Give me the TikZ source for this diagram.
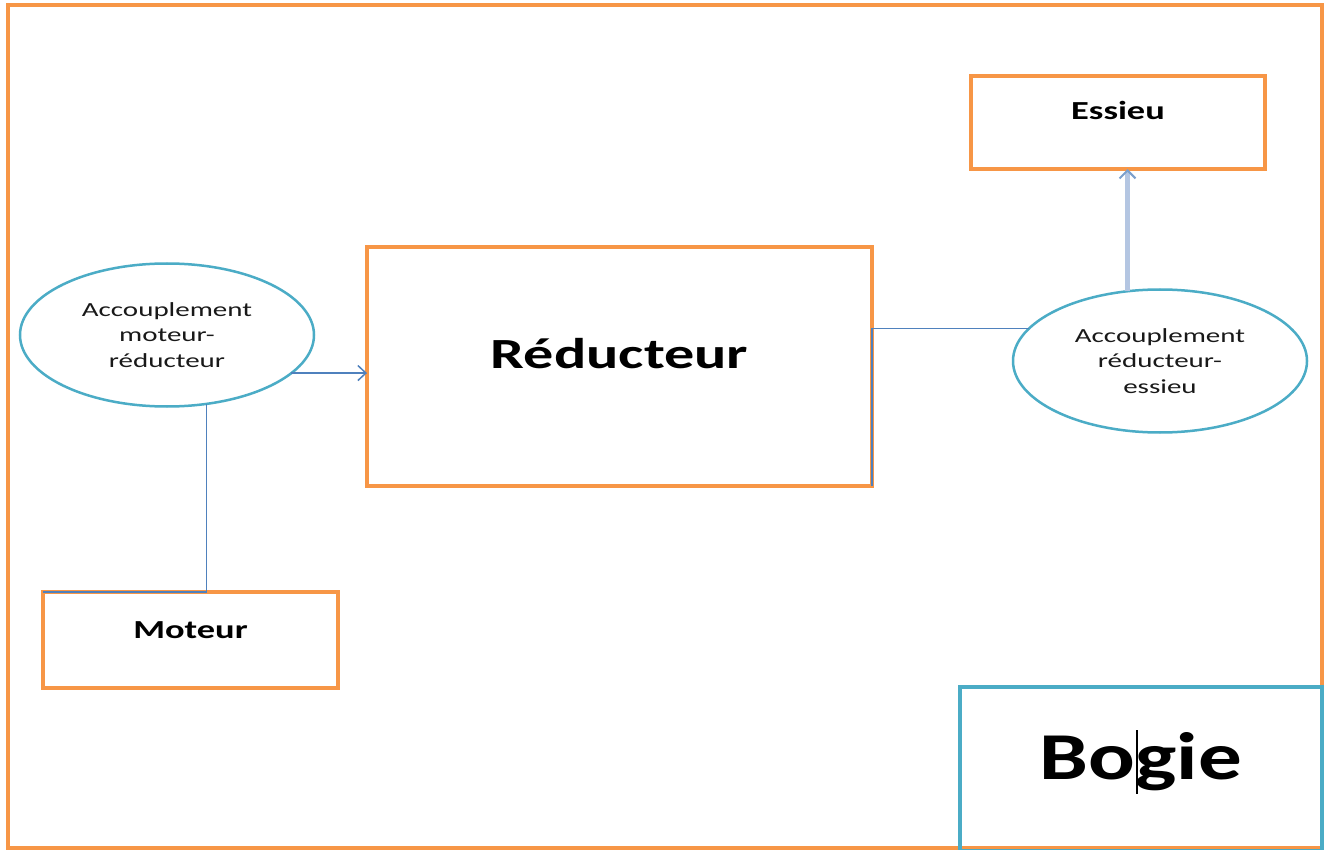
\documentclass[tikz,border=0pt]{standalone}
\usepackage{fontspec}
\usetikzlibrary{shapes.geometric,arrows.meta}
\newfontfamily\carlito[FakeStretch=1.3]{Carlito}
\newfontfamily\carlitowide[FakeStretch=1.4]{Carlito}
\newfontfamily\carlitoring[FakeStretch=1.45]{Carlito}
\definecolor{boxorange}{HTML}{F79646}
\definecolor{ringteal}{HTML}{4BACC6}
\definecolor{linkblue}{HTML}{4F81BD}
\definecolor{linklight}{HTML}{B4C6E2}
\tikzset{
	bloc/.style = {draw=boxorange, line width=4, rectangle, inner sep=0, outer sep=0},
	accouplement/.style = {draw=ringteal, line width=2.5, ellipse, inner sep=0, outer sep=0,
		minimum width=294, minimum height=143, align=center,
		font=\carlitoring\fontsize{20}{25.5}\selectfont, text=black!90},
	lien/.style = {draw=linkblue, line width=1.5},
	pointe/.style = {-{Straight Barb[length=8, width=15, line width=1.5]}},
}
\begin{document}
\begin{tikzpicture}[x=1pt, y=-1pt]
		\useasboundingbox (0,0) rectangle (1328,850);
		\fill [white] (0,0) rectangle (1328,850);
		\draw [draw=boxorange, line width=4] (8,5) rectangle (1322,848);
		
		\node [bloc, minimum width=294, minimum height=93, text height=18, text depth=23,
			font=\carlitowide\bfseries\fontsize{26}{26}\selectfont] (essieu) at (1118,122.5) {Essieu};
		\node [bloc, minimum width=505, minimum height=239, text height=31, text depth=28,
			font=\carlitowide\bfseries\fontsize{43}{43}\selectfont] (reducteur) at (619.5,366.5) {Réducteur};
		\node [bloc, minimum width=295, minimum height=96, text height=18, text depth=22,
			font=\carlitowide\bfseries\fontsize{26}{26}\selectfont] (moteur) at (190.5,640) {Moteur};
		\node [draw=ringteal, line width=4, rectangle, inner sep=0, outer sep=0,
			minimum width=362, minimum height=164, text height=46, text depth=26,
			font=\carlito\bfseries\fontsize{67}{67}\selectfont] (bogie) at (1141,769) {Bogie};
		
		\node [accouplement] (accmr) at (167,335) {Accouplement\\moteur-\\réducteur};
		\node [accouplement] (accre) at (1160,361) {Accouplement\\réducteur-\\essieu};
		
		\draw [lien, pointe] (accmr.-17.5) -- (accmr.-17.5 -| reducteur.west);
		\draw [lien] (accmr.-60) -- (accmr.-60 |- moteur.north) -- (moteur.north west);
		\draw [lien] (accre.166) -- (accre.166 -| reducteur.east) -- (reducteur.south east);
		\draw [draw=linklight, line width=4.5, -{Straight Barb[length=8, width=16, line width=2, color=linkblue!75]}]
			(accre.115) -- (accre.115 |- essieu.south);
		
		\draw [line width=1.2] (1137,730) -- (1137,794);
		
		\end{tikzpicture}
\end{document}
